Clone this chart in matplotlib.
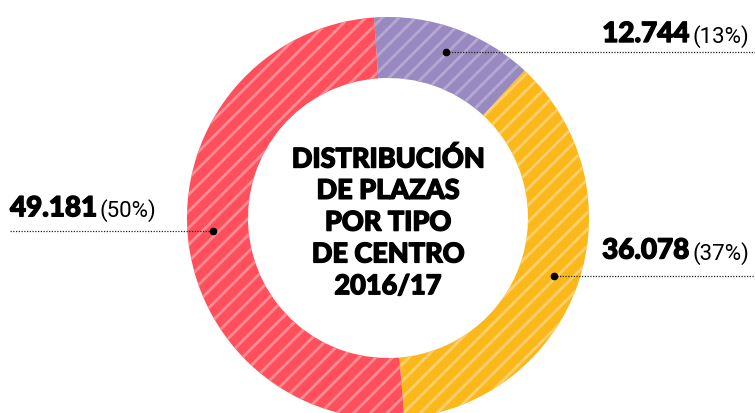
import matplotlib
matplotlib.use("Agg")
import matplotlib.pyplot as plt
import matplotlib.patheffects as pe
import numpy as np
from matplotlib import font_manager as fm

# ---- data ----
categories = ["Tipo A", "Tipo B", "Tipo C"]
values = [12744, 36078, 49181]
value_labels = ["12.744", "36.078", "49.181"]
pct_labels = ["(13%)", "(37%)", "(50%)"]
title_lines = ["DISTRIBUCIÓN", "DE PLAZAS", "POR TIPO", "DE CENTRO", "2016/17"]

base_colors = ["#9989C1", "#FBB81A", "#FF4F5C"]
light_colors = ["#B4A8D3", "#FDCF6F", "#FF8B93"]

def has_font(name):
    try:
        fm.findfont(fm.FontProperties(family=name), fallback_to_default=False)
        return True
    except Exception:
        return False

bold_font = "Lato" if has_font("Lato") else "DejaVu Sans"
narrow_font = "Liberation Sans Narrow" if has_font("Liberation Sans Narrow") else "Roboto"

plt.rcParams["hatch.linewidth"] = 2.0

W, H = 755, 414
fig = plt.figure(figsize=(W / 100, H / 100), dpi=100)
ax = fig.add_axes([0, 0, 1, 1])

cx, cy = 388, H - 219
R = 201
ring = 61

wedges, _ = ax.pie(values, startangle=94, counterclock=False, radius=R,
                   center=(cx, cy), frame=True,
                   wedgeprops=dict(width=ring, linewidth=0))
for w, bc, lc in zip(wedges, base_colors, light_colors):
    w.set_facecolor(bc)
    w.set_edgecolor(lc)
    w.set_linewidth(0)
    w.set_hatch("//")

ax.set_xlim(0, W)
ax.set_ylim(0, H)
ax.set_aspect("equal")
ax.axis("off")

heavy = [pe.withStroke(linewidth=1.0, foreground="black")]

# center title
for i, line in enumerate(title_lines):
    ax.text(cx, H - 160 - i * 31.8, line, ha="center", va="center",
            fontsize=19.5, fontweight="black", family=bold_font, color="#000000",
            path_effects=heavy)

# labels with leader lines
fig.canvas.draw()
renderer = fig.canvas.get_renderer()
inv = ax.transData.inverted()

label_side = ["right", "right", "left"]
text_lift = [10, 17, 15]
dot_r = 176
for w, side, lift, num, pct in zip(wedges, label_side, text_lift, value_labels, pct_labels):
    mid = np.deg2rad((w.theta1 + w.theta2) / 2)
    dx = cx + dot_r * np.cos(mid)
    dy = cy + dot_r * np.sin(mid)
    ax.plot([dx], [dy], "o", color="black", markersize=4.5, zorder=5)
    if side == "right":
        ax.plot([dx, W], [dy, dy], linestyle=(0, (1, 1.2)), color="#222222", lw=0.9, zorder=4)
        ty = dy + lift
        t2 = ax.text(W - 6, ty, pct, ha="right", va="baseline", fontsize=16,
                     family=narrow_font, fontweight="normal", color="#000000")
        bb = t2.get_window_extent(renderer)
        x0 = inv.transform((bb.x0, 0))[0]
        ax.text(x0 - 3, ty, num, ha="right", va="baseline", fontsize=20,
                fontweight="black", family=bold_font, color="#000000",
                path_effects=heavy)
    else:
        ax.plot([10, dx], [dy, dy], linestyle=(0, (1, 1.2)), color="#222222", lw=0.9, zorder=4)
        ty = dy + lift
        t1 = ax.text(10, ty, num, ha="left", va="baseline", fontsize=20,
                     fontweight="black", family=bold_font, color="#000000",
                     path_effects=heavy)
        bb = t1.get_window_extent(renderer)
        x1 = inv.transform((bb.x1, 0))[0]
        ax.text(x1 + 3, ty, pct, ha="left", va="baseline", fontsize=16,
                family=narrow_font, fontweight="normal", color="#000000")

fig.savefig("out.png", dpi=100, facecolor="white")
